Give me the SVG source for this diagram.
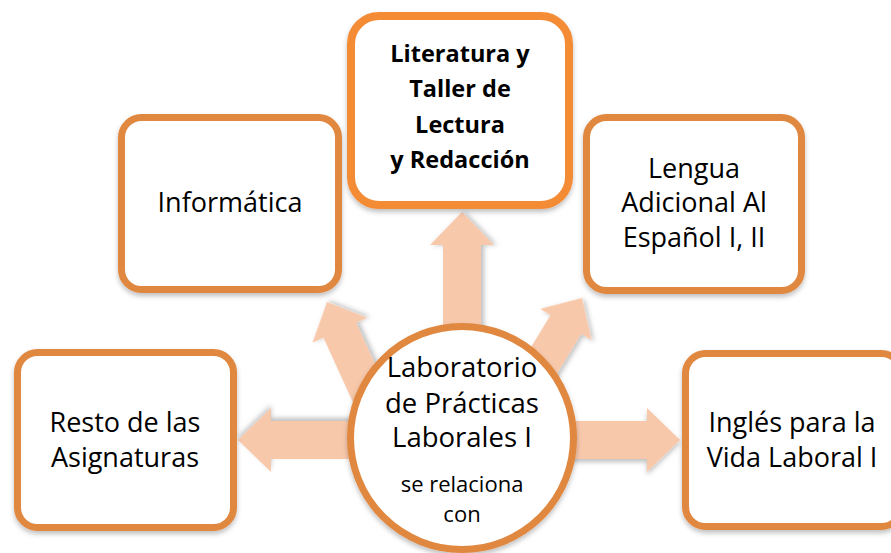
<svg xmlns="http://www.w3.org/2000/svg" width="891" height="553" viewBox="0 0 891 553">
<defs>
<filter id="sh" x="-10%" y="-10%" width="120%" height="125%">
<feDropShadow dx="0" dy="3" stdDeviation="2.5" flood-color="#000" flood-opacity="0.25"/>
</filter>
<path id="arr" d="M0,0 L-33,-32 L-33,-19 L-120,-19 L-120,19 L-33,19 L-33,32 Z"/>
<path id="arrs" d="M0,0 L-31,-30 L-31,-18 L-110,-18 L-110,18 L-31,18 L-31,30 Z"/>
</defs>
<style>
.box{fill:#fff;stroke:#E0873F;stroke-width:7;filter:url(#sh)}
.boxb{fill:#fff;stroke:#F48B36;stroke-width:8;filter:url(#sh)}
.ar{fill:#F8C8AB;filter:url(#sh)}
text{font-family:"Open Sans","Noto Sans","Liberation Sans",sans-serif;fill:#000;text-anchor:middle}
.t{font-size:27px}
.b{font-size:23.5px;font-weight:bold}
.c{font-size:27.5px}
.s{font-size:22px}
</style>
<rect width="891" height="553" fill="#fff"/>
<g id="connectors">
<use href="#arr" class="ar" transform="translate(462,212) rotate(-90)"/>
<use href="#arrs" class="ar" transform="translate(327,302) rotate(-114.5)"/>
<use href="#arrs" class="ar" transform="translate(582,298) rotate(-58.7)"/>
<use href="#arr" class="ar" transform="translate(238,440) rotate(180)"/>
<use href="#arr" class="ar" transform="translate(680,440)"/>
</g>
<g id="informatica">
<rect class="box" x="121.5" y="117.5" width="217" height="172" rx="20"/>
<text class="t" x="230" y="212">Informática</text>
</g>
<g id="literatura">
<rect class="boxb" x="351" y="16" width="218" height="189" rx="28"/>
<text class="b" x="460" y="62">Literatura y</text>
<text class="b" x="460" y="97">Taller de</text>
<text class="b" x="460" y="133">Lectura</text>
<text class="b" x="460" y="168">y Redacción</text>
</g>
<g id="lengua">
<rect class="box" x="586.5" y="117.5" width="215" height="173" rx="20"/>
<text class="t" x="694" y="178">Lengua</text>
<text class="t" x="694" y="212">Adicional Al</text>
<text class="t" x="694" y="247">Español I, II</text>
</g>
<g id="resto">
<rect class="box" x="17.5" y="352.5" width="216" height="175" rx="20"/>
<text class="t" x="125" y="432">Resto de las</text>
<text class="t" x="125" y="467">Asignaturas</text>
</g>
<g id="ingles">
<rect class="box" x="685.5" y="353.5" width="216" height="173" rx="20"/>
<text class="t" x="792" y="432">Inglés para la</text>
<text class="t" x="792" y="467">Vida Laboral I</text>
</g>
<g id="laboratorio">
<circle class="box" cx="462" cy="438" r="111.5"/>
<text class="c" x="462" y="377">Laboratorio</text>
<text class="c" x="462" y="413">de Prácticas</text>
<text class="c" x="462" y="447">Laborales I</text>
<text class="s" x="462" y="492">se relaciona</text>
<text class="s" x="462" y="522">con</text>
</g>
</svg>
